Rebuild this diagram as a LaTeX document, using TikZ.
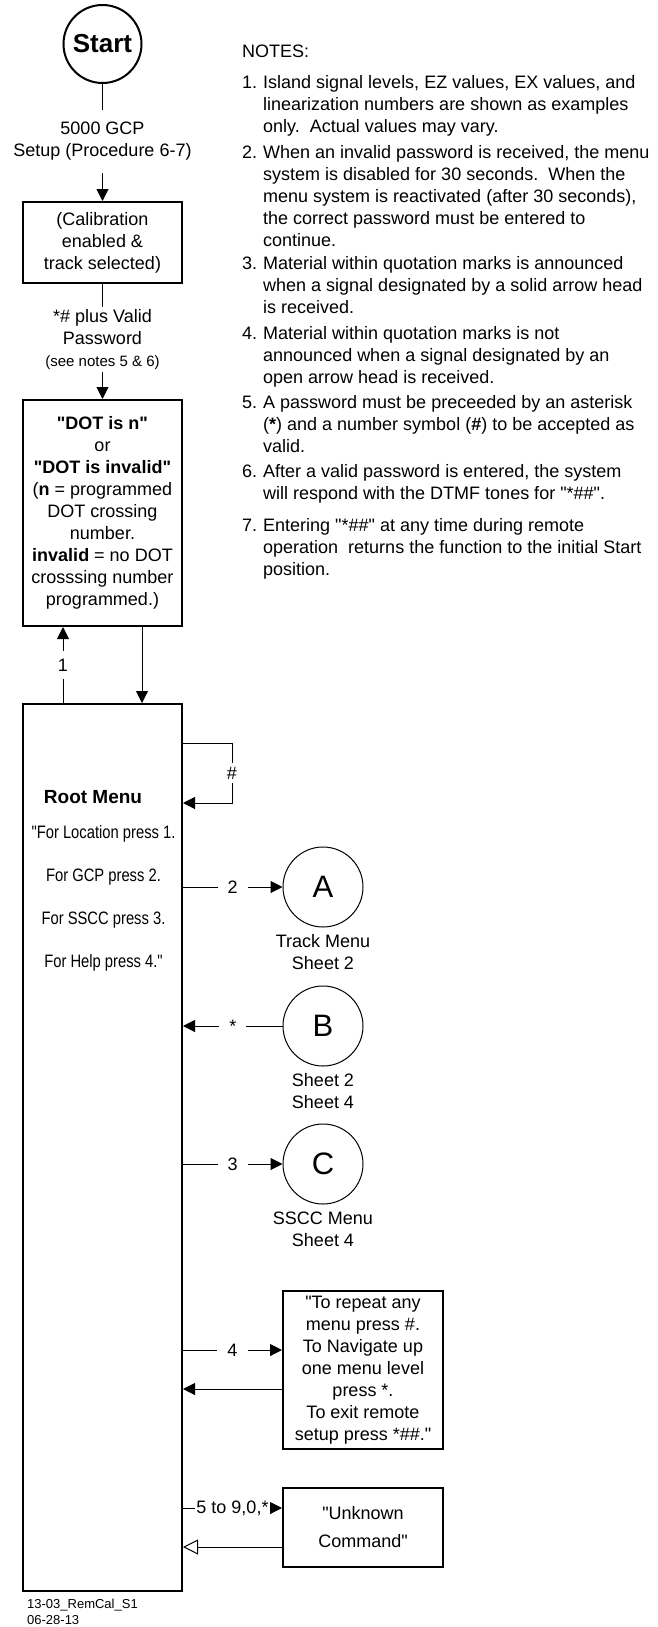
\documentclass[tikz,border=0pt]{standalone}
\usepackage{fontspec}
\setmainfont{Liberation Sans}[Ligatures=TeXOff]
\newfontfamily\narrowfont[FakeStretch=0.82]{Liberation Sans}
\usetikzlibrary{arrows.meta,positioning}

\begin{document}
\begin{tikzpicture}[x=1pt, y=-1pt,
    font=\fontsize{18}{22}\selectfont,
    box/.style={draw, line width=2pt, minimum width=159pt, align=center, inner sep=0pt},
    conn/.style={line width=1pt},
    arr/.style={conn, -{Triangle[length=12pt,width=12pt]}},
    openarr/.style={conn, -{Triangle[open,length=15pt,width=15pt,fill=white]}},
    plain/.style={align=center, inner sep=0pt},
    lbl/.style={fill=white, inner xsep=10pt, inner ysep=2pt},
    menucirc/.style={draw, circle, line width=1pt, minimum size=80pt, inner sep=0pt, font=\fontsize{31}{31}\selectfont}]

    % Page
    \fill[white] (0,0) rectangle (658,1627);

    % Start and set-up column
    \node[draw, circle, line width=2pt, minimum size=78pt, inner sep=0pt, font=\bfseries\fontsize{26}{26}\selectfont] (start) at (102.5,44) {Start};
    \node[plain, minimum height=63pt] (setup) at (102.5,141.5) {5000 GCP\\Setup (Procedure 6-7)};
    \node[box, minimum height=81pt] (calib) at (102.5,242.5) {(Calibration\\enabled \&\\track selected)};
    \node[plain, minimum height=65pt] (passwd) at (102.5,339.5) {*\# plus Valid\\Password\\{\fontsize{15}{18}\selectfont (see notes 5 \& 6)}};
    \node[box, minimum height=226pt] (dot) at (102.5,513) {\textbf{"DOT is n"}\\or\\\textbf{"DOT is invalid"}\\(\textbf{n} = programmed\\DOT crossing\\number.\\\textbf{invalid} = no DOT\\crosssing number\\programmed.)};

    \draw[conn] (start) -- (setup);
    \draw[arr] (setup) -- (calib);
    \draw[conn] (calib) -- (passwd);
    \draw[arr] (passwd) -- (dot);

    % Root menu
    \node[box, minimum height=887pt] (root) at (102.5,1147.5) {};
    \node[font=\bfseries\fontsize{19}{22}\selectfont, inner sep=0pt] (roottitle) at (93,797) {Root Menu};
    \node[plain, font=\narrowfont\fontsize{18}{22}\selectfont] (rootitems) at (103.5,898) {"For Location press 1.\\[21pt]For GCP press 2.\\[21pt]For SSCC press 3.\\[21pt]For Help press 4."};

    \coordinate (up1) at ([xshift=-39.5pt]root.north);
    \coordinate (down1) at ([xshift=39.5pt]dot.south);
    \draw[arr] (up1) -- node[lbl, inner xsep=2pt, inner ysep=8pt] {1} (up1 |- dot.south);
    \draw[arr] (down1) -- (down1 |- root.north);

    % Repeat loop
    \coordinate (hashtop) at (232,743);
    \coordinate (hashbot) at (232,803);
    \draw[arr] (root.east |- hashtop) -- (hashtop) -- node[lbl, inner xsep=2pt, inner ysep=4pt] {\#} (hashbot) -- (root.east |- hashbot);

    % Off-sheet menus
    \node[menucirc] (circA) at (323,887) {A};
    \node[plain, below=7pt of circA] (sheetA) {Track Menu\\Sheet 2};
    \node[menucirc] (circB) at (323,1026) {B};
    \node[plain, below=7pt of circB] (sheetB) {Sheet 2\\Sheet 4};
    \node[menucirc] (circC) at (323,1164) {C};
    \node[plain, below=7pt of circC] (sheetC) {SSCC Menu\\Sheet 4};

    \draw[arr] (root.east |- circA.west) -- node[lbl] {2} (circA.west);
    \draw[arr] (circB.west) -- node[lbl] {*} (root.east |- circB.west);
    \draw[arr] (root.east |- circC.west) -- node[lbl] {3} (circC.west);

    % Help and unknown command
    \node[box, minimum width=160pt, minimum height=158pt] (help) at (363,1370) {"To repeat any\\menu press \#.\\To Navigate up\\one menu level\\press *.\\To exit remote\\setup press *\#\#."};
    \node[box, minimum width=160pt, minimum height=79pt] (unknown) at (363,1527.5) {"Unknown\\[6pt]Command"};

    \coordinate (helpin) at ([yshift=20pt]help.west);
    \coordinate (helpout) at ([yshift=-19pt]help.west);
    \draw[arr] (root.east |- helpin) -- node[lbl] {4} (helpin);
    \draw[arr] (helpout) -- (root.east |- helpout);

    \coordinate (unkin) at ([yshift=19.5pt]unknown.west);
    \coordinate (unkout) at ([yshift=-19.5pt]unknown.west);
    \draw[arr] (root.east |- unkin) -- node[lbl, inner xsep=1pt] {5 to 9,0,*} (unkin);
    \draw[openarr] (unkout) -- (root.east |- unkout);

    % Notes
    \node[anchor=base west, inner sep=0pt] (notes) at (242,57.5) {\begin{tabular}[t]{@{}p{21pt}@{}l@{}}
    \multicolumn{2}{@{}l@{}}{NOTES:}\\[9.5pt]
    1. & Island signal levels, EZ values, EX values, and\\
       & linearization numbers are shown as examples\\
       & only.\ \ Actual values may vary.\\[4pt]
    2. & When an invalid password is received, the menu\\
       & system is disabled for 30 seconds.\ \ When the\\
       & menu system is reactivated (after 30 seconds),\\
       & the correct password must be entered to\\
       & continue.\\[1pt]
    3. & Material within quotation marks is announced\\
       & when a signal designated by a solid arrow head\\
       & is received.\\[4pt]
    4. & Material within quotation marks is not\\
       & announced when a signal designated by an\\
       & open arrow head is received.\\[3pt]
    5. & A password must be preceeded by an asterisk\\
       & (\textbf{*}) and a number symbol (\textbf{\#}) to be accepted as\\
       & valid.\\[3pt]
    6. & After a valid password is entered, the system\\
       & will respond with the DTMF tones for "*\#\#".\\[10pt]
    7. & Entering "*\#\#" at any time during remote\\
       & operation\ \ returns the function to the initial Start\\
       & position.
    \end{tabular}};

    % Drawing reference
    \node[anchor=north west, inner sep=0pt, align=left, font=\fontsize{13}{16}\selectfont] (footer) at (27,1599) {13-03\_RemCal\_S1\\06-28-13};
\end{tikzpicture}
\end{document}
